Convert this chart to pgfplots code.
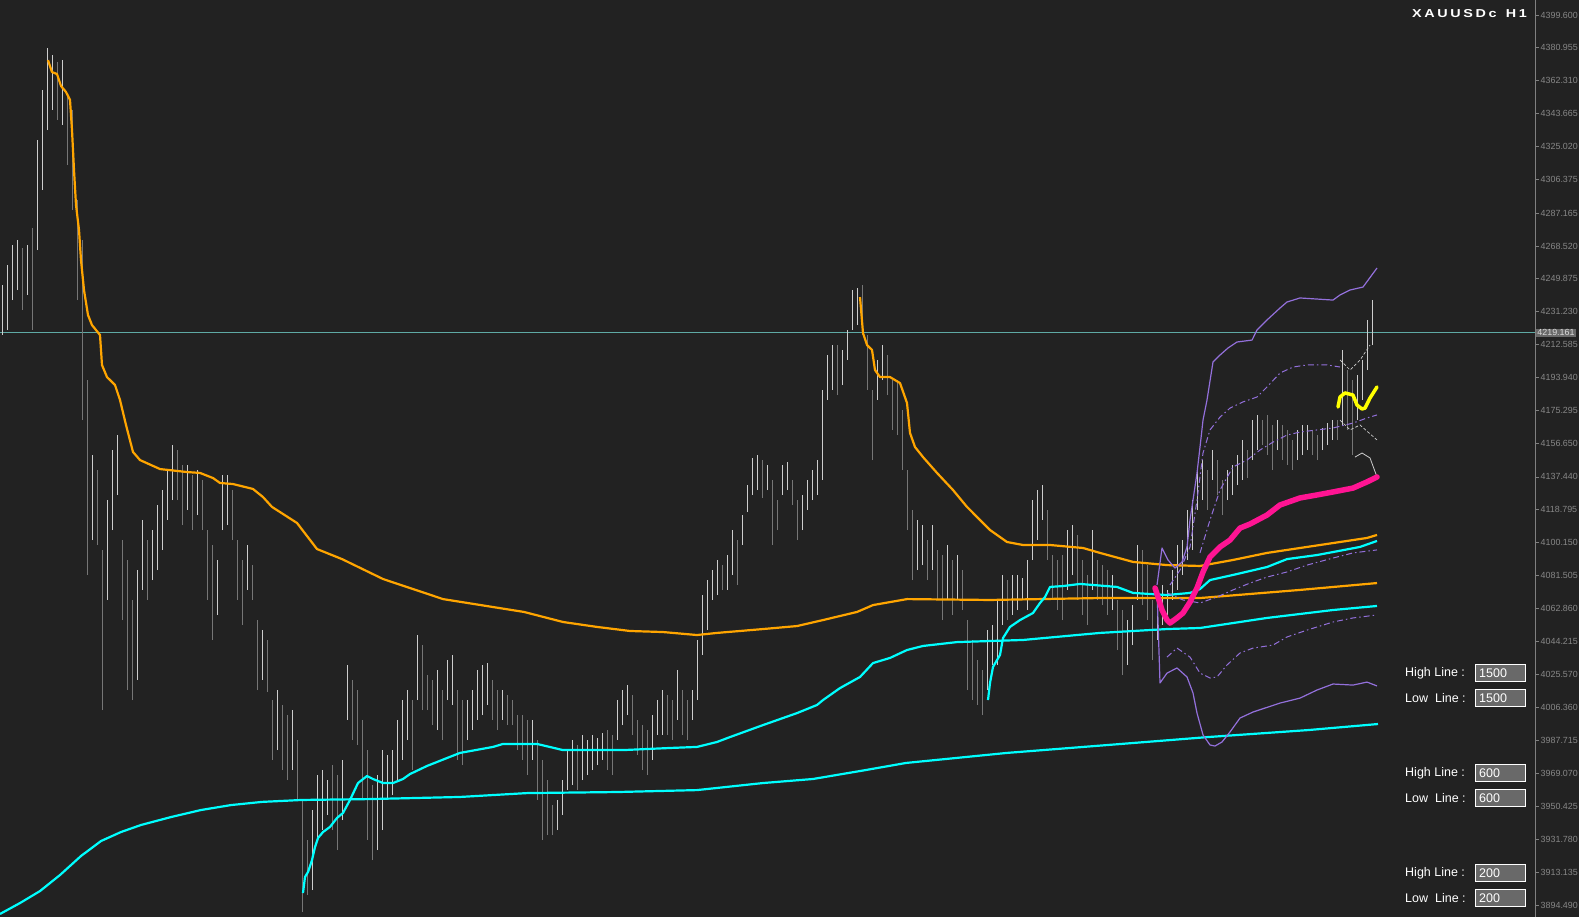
\documentclass[border=0pt]{standalone}
\usepackage{fontspec}
\setmainfont{Liberation Sans}
\usepackage{graphicx}
\usepackage{pgfplots}
\usepackage{pgfplotstable}
\pgfplotsset{compat=1.18}
\definecolor{bgc}{RGB}{34,34,34}
\definecolor{barhi}{RGB}{205,205,205}
\definecolor{barlo}{RGB}{118,118,118}
\definecolor{orangeL}{RGB}{255,165,0}
\definecolor{cyanL}{RGB}{0,255,255}
\definecolor{pinkL}{RGB}{255,20,147}
\definecolor{yellowL}{RGB}{255,255,0}
\definecolor{purpL}{RGB}{147,112,219}
\definecolor{tealL}{RGB}{95,170,165}
\definecolor{axgray}{RGB}{128,128,128}
\definecolor{txtgray}{RGB}{135,135,135}
\definecolor{boxgray}{RGB}{105,105,105}

% H1 bars: low, high, up(1)/down(0)
\pgfplotstableread[row sep=\\]{
lo hi u\\
4218.0 4246.4 1\\ 4220.8 4257.7 1\\ 4237.8 4269.1 1\\ 4243.5 4271.9 1\\ 4232.2 4267.4 0\\
4240.7 4269.1 1\\ 4220.8 4278.7 0\\ 4266.2 4328.6 1\\ 4300.3 4357.0 1\\ 4334.3 4380.9 1\\
4345.7 4376.9 1\\ 4340.0 4372.9 0\\ 4337.2 4374.0 1\\ 4314.5 4354.2 0\\ 4288.9 4345.7 0\\
4237.8 4294.6 0\\ 4169.7 4271.9 0\\ 4081.8 4192.4 0\\ 4101.6 4149.9 1\\ 4098.8 4141.4 0\\
4005.1 4096.0 0\\ 4067.6 4124.3 1\\ 4107.3 4152.7 1\\ 4127.2 4161.2 1\\ 4056.2 4101.6 0\\
4016.5 4090.3 0\\ 4010.8 4067.6 0\\ 4022.2 4084.6 1\\ 4073.3 4113.0 1\\ 4067.6 4101.6 0\\
4078.9 4107.3 1\\ 4084.6 4121.5 1\\ 4096.0 4130.0 1\\ 4113.0 4141.4 1\\ 4124.3 4155.5 1\\
4124.3 4152.7 0\\ 4110.1 4144.2 0\\ 4118.7 4144.2 1\\ 4107.3 4138.5 0\\ 4115.8 4141.4 1\\
4107.3 4135.7 0\\ 4067.6 4107.3 0\\ 4044.9 4098.8 0\\ 4059.1 4090.3 1\\ 4107.3 4138.5 1\\
4110.1 4138.5 1\\ 4101.6 4130.0 0\\ 4067.6 4101.6 0\\ 4053.4 4090.3 0\\ 4073.3 4098.8 1\\
4067.6 4087.4 0\\ 4016.5 4056.2 0\\ 4022.2 4050.5 1\\ 4015.4 4044.9 0\\ 3976.8 4010.8 0\\
3982.4 4016.5 1\\ 3971.1 4008.0 0\\ 3965.4 4002.3 0\\ 3971.1 4005.1 1\\ 3954.1 3988.1 0\\
3890.5 3954.1 0\\ 3900.1 3931.4 0\\ 3903.0 3948.4 1\\ 3931.4 3968.3 1\\ 3937.0 3971.1 1\\
3945.6 3965.4 1\\ 3937.0 3973.9 0\\ 3925.7 3968.3 0\\ 3942.7 3976.8 1\\ 3999.5 4030.7 1\\
3988.1 4022.2 0\\ 3985.3 4016.5 0\\ 3954.1 3999.5 0\\ 3931.4 3982.4 0\\ 3920.0 3962.6 0\\
3925.7 3968.3 1\\ 3937.0 3982.4 1\\ 3954.1 3979.6 1\\ 3956.9 3982.4 1\\ 3965.4 3999.5 1\\
3976.8 4010.8 1\\ 3988.1 4016.5 1\\ 3971.1 4010.8 0\\ 4010.8 4047.7 1\\ 4005.1 4042.0 0\\
4005.1 4025.0 0\\ 3996.6 4022.2 0\\ 3993.8 4027.8 1\\ 3988.1 4016.5 0\\ 4010.8 4033.5 1\\
4008.0 4036.4 1\\ 3976.8 4016.5 0\\ 3973.9 4010.8 0\\ 3988.1 4010.8 1\\ 3993.8 4016.5 1\\
3999.5 4027.8 1\\ 4002.3 4030.7 1\\ 4008.0 4031.8 1\\ 3999.5 4022.2 0\\ 3993.8 4016.5 0\\
3999.5 4016.5 1\\ 3996.6 4013.7 0\\ 3996.6 4010.8 0\\ 3982.4 4002.3 0\\ 3976.8 4002.3 0\\
3968.3 3999.5 0\\ 3976.8 3999.5 1\\ 3954.1 3988.1 0\\ 3931.4 3976.8 0\\ 3934.2 3965.4 0\\
3934.2 3951.2 0\\ 3937.0 3954.1 1\\ 3945.6 3965.4 1\\ 3959.7 3982.4 1\\ 3962.6 3988.1 1\\
3959.7 3985.3 0\\ 3965.4 3991.0 1\\ 3968.3 3988.1 1\\ 3971.1 3991.0 1\\ 3973.9 3989.3 1\\
3976.8 3992.1 1\\ 3971.1 3993.8 0\\ 3968.3 3991.0 0\\ 3988.1 4010.8 1\\ 3996.6 4016.5 1\\
4002.3 4019.3 1\\ 3991.0 4013.7 0\\ 3979.6 3999.5 0\\ 3971.1 3996.6 0\\ 3968.3 3993.8 0\\
3976.8 4002.3 1\\ 3991.0 4010.8 1\\ 3991.0 4016.5 1\\ 3991.0 4013.7 0\\ 3988.1 4010.8 0\\
3999.5 4027.8 1\\ 3991.0 4016.5 0\\ 3988.1 4010.8 0\\ 3999.5 4016.5 1\\ 4010.8 4044.9 1\\
4036.4 4070.4 1\\ 4050.5 4078.9 1\\ 4067.6 4084.6 1\\ 4070.4 4090.3 1\\ 4073.3 4087.4 0\\
4073.3 4093.1 1\\ 4081.8 4107.3 1\\ 4076.1 4101.6 0\\ 4098.8 4115.8 1\\ 4117.5 4132.8 1\\
4127.2 4148.2 1\\ 4130.0 4149.9 1\\ 4125.5 4147.0 0\\ 4130.0 4144.2 1\\ 4098.8 4135.7 0\\
4107.3 4124.3 0\\ 4127.2 4144.2 1\\ 4130.0 4145.9 1\\ 4121.5 4135.7 0\\ 4101.6 4124.3 0\\
4107.3 4127.2 1\\ 4118.7 4135.7 1\\ 4124.3 4141.4 1\\ 4127.2 4147.0 1\\ 4135.7 4186.8 1\\
4181.1 4206.6 1\\ 4186.8 4212.3 1\\ 4183.9 4212.3 0\\ 4189.6 4209.5 1\\ 4203.8 4220.8 1\\
4220.8 4243.5 1\\ 4223.6 4244.7 1\\ 4218.0 4246.4 0\\ 4186.8 4218.0 0\\ 4147.0 4186.8 0\\
4181.1 4203.8 1\\ 4192.4 4212.3 1\\ 4183.9 4206.6 0\\ 4164.1 4192.4 0\\ 4161.2 4192.4 0\\
4141.4 4175.4 0\\ 4107.3 4141.4 0\\ 4078.9 4118.7 0\\ 4084.6 4113.0 1\\ 4087.4 4110.1 1\\
4078.9 4101.6 0\\ 4084.6 4110.1 1\\ 4067.6 4096.0 0\\ 4056.2 4093.1 0\\ 4067.6 4098.8 1\\
4059.1 4090.3 0\\ 4067.6 4093.1 1\\ 4061.9 4084.6 0\\ 4016.5 4056.2 0\\ 4010.8 4044.9 0\\
4008.0 4033.5 0\\ 4002.3 4027.8 0\\ 4016.5 4050.5 1\\ 4030.7 4053.4 1\\ 4030.7 4067.6 1\\
4053.4 4081.8 1\\ 4056.2 4078.9 0\\ 4059.1 4081.8 1\\ 4061.9 4081.8 1\\ 4067.6 4080.1 1\\
4061.9 4090.3 1\\ 4090.3 4124.3 1\\ 4101.6 4130.0 1\\ 4113.0 4132.8 1\\ 4090.3 4118.7 0\\
4067.6 4093.1 0\\ 4061.9 4090.3 0\\ 4056.2 4093.1 0\\ 4073.3 4107.3 1\\ 4081.8 4110.1 1\\
4067.6 4104.5 0\\ 4059.1 4090.3 0\\ 4053.4 4081.8 0\\ 4073.3 4107.3 1\\ 4067.6 4090.3 0\\
4064.7 4087.4 0\\ 4059.1 4084.6 0\\ 4061.9 4081.8 1\\ 4039.2 4067.6 0\\ 4025.0 4061.9 0\\
4030.7 4056.2 1\\ 4042.0 4064.7 1\\ 4067.6 4098.8 1\\ 4064.7 4096.0 0\\ 4056.2 4087.4 0\\
4033.5 4067.6 0\\ 4044.9 4070.4 1\\ 4053.4 4076.1 1\\ 4059.1 4073.3 1\\ 4067.6 4084.6 1\\
4073.3 4098.8 1\\ 4081.8 4101.6 1\\ 4090.3 4118.7 1\\ 4096.0 4124.3 1\\ 4118.7 4141.4 1\\
4124.3 4147.0 1\\ 4118.7 4141.4 0\\ 4135.7 4152.7 1\\ 4127.2 4147.0 0\\ 4115.8 4135.7 0\\
4124.3 4141.4 1\\ 4127.2 4144.2 1\\ 4132.8 4149.9 1\\ 4135.7 4158.4 1\\ 4136.8 4152.7 0\\
4147.0 4169.7 1\\ 4152.7 4172.6 1\\ 4155.5 4169.7 0\\ 4149.9 4172.6 0\\ 4141.4 4166.9 0\\
4152.7 4169.7 1\\ 4147.0 4166.9 0\\ 4144.2 4164.1 0\\ 4141.4 4158.4 0\\ 4147.0 4164.1 1\\
4149.9 4166.9 1\\ 4152.7 4166.9 1\\ 4149.9 4164.1 0\\ 4147.0 4161.2 0\\ 4152.7 4165.2 1\\
4155.5 4168.0 1\\ 4158.4 4169.7 1\\ 4158.4 4169.7 0\\ 4166.9 4209.5 1\\ 4164.1 4198.1 0\\
4149.9 4192.4 0\\ 4169.7 4195.3 1\\ 4181.1 4203.8 1\\ 4198.1 4226.5 1\\ 4212.3 4237.8 1\\
}\bars

\begin{document}
\begin{tikzpicture}
\fill[bgc] (0,0) rectangle (1579pt,917pt);
\begin{axis}[
  scale only axis, width=1535pt, height=917pt,
  xmin=0, xmax=1535, ymin=3887.68, ymax=4408.11,
  hide x axis, axis y line*=right,
  axis line style={draw=axgray, line width=1pt},
  ytick={3894.490,3913.135,3931.780,3950.425,3969.070,3987.715,4006.360,4025.570,4044.215,4062.860,4081.505,4100.150,4118.795,4137.440,4156.650,4175.295,4193.940,4212.585,4231.230,4249.875,4268.520,4287.165,4306.375,4325.020,4343.665,4362.310,4380.955,4399.600},
  yticklabels={3894.490,3913.135,3931.780,3950.425,3969.070,3987.715,4006.360,4025.570,4044.215,4062.860,4081.505,4100.150,4118.795,4137.440,4156.650,4175.295,4193.940,4212.585,4231.230,4249.875,4268.520,4287.165,4306.375,4325.020,4343.665,4362.310,4380.955,4399.600},
  tick align=outside, major tick length=4pt,
  ytick style={draw=axgray, line width=0.8pt},
  yticklabel style={font=\fontsize{8.9}{10}\selectfont, text=txtgray, anchor=west, inner sep=0pt, xshift=1.5pt},
]
% current price line
\addplot[tealL, line width=1pt, forget plot] coordinates {(0,4219.161) (1535,4219.161)};
% bars
\addplot[draw=none, mark=none, forget plot,
  restrict expr to domain={\thisrow{u}}{0.5:1.5},
  error bars/.cd, y dir=plus, y explicit, error mark=none,
  error bar style={draw=barhi, line width=1pt}]
  table[x expr=\coordindex*5+2, y=lo, y error expr=\thisrow{hi}-\thisrow{lo}] {\bars};
\addplot[draw=none, mark=none, forget plot,
  restrict expr to domain={\thisrow{u}}{-0.5:0.5},
  error bars/.cd, y dir=plus, y explicit, error mark=none,
  error bar style={draw=barlo, line width=1pt}]
  table[x expr=\coordindex*5+2, y=lo, y error expr=\thisrow{hi}-\thisrow{lo}] {\bars};
% orange A
\addplot[orangeL, line width=2.2pt, line join=round] coordinates {
(48,4374.0) (52,4367.2) (57,4366.1) (61,4359.3) (66,4355.9) (70,4351.4) (72,4334.3) (74,4311.6) (76,4291.8) (79,4277.6) (81,4260.5) (84,4243.5) (88,4229.3) (92,4223.6) (100,4218.0) (102,4200.9) (107,4194.1) (115,4189.6) (120,4181.1) (126,4166.9) (133,4151.6) (140,4147.0) (160,4141.9) (187,4140.2) (200,4139.7) (213,4136.8) (220,4134.0) (233,4133.4) (253,4130.6) (263,4126.0) (272,4120.4) (297,4111.3) (317,4096.5) (342,4090.8) (383,4079.5) (443,4068.1) (524,4060.8) (563,4055.1) (597,4052.3) (630,4050.0) (663,4049.4) (697,4047.7) (717,4048.9) (763,4051.1) (797,4052.8) (823,4056.2) (857,4060.8) (873,4064.7) (907,4068.1) (990,4067.6) (1100,4068.7) (1200,4068.7) (1300,4073.3) (1377,4077.2)};
% orange B
\addplot[orangeL, line width=2.2pt, line join=round] coordinates {
(860,4239.5) (863,4219.1) (867,4212.3) (872,4209.5) (875,4198.1) (880,4194.1) (890,4194.1) (900,4190.7) (907,4179.4) (910,4162.4) (915,4154.4) (923,4148.7) (937,4139.7) (953,4130.0) (967,4120.4) (990,4107.3) (1007,4100.5) (1023,4098.8) (1050,4098.8) (1083,4097.1) (1100,4094.3) (1133,4089.2) (1167,4087.4) (1200,4086.9) (1233,4090.3) (1267,4094.3) (1300,4097.1) (1333,4099.9) (1367,4102.8) (1377,4104.5)};
% cyan 1
\addplot[cyanL, line width=2.2pt, line join=round] coordinates {
(0,3889.4) (20,3895.6) (40,3902.4) (60,3911.5) (81,3922.3) (101,3930.8) (121,3935.9) (141,3939.9) (171,3944.4) (201,3948.4) (231,3951.2) (262,3953.0) (302,3954.1) (370,3954.6) (460,3955.8) (527,3958.0) (617,3958.6) (697,3959.7) (763,3963.7) (813,3966.0) (866,3971.1) (906,3975.1) (1007,3980.8) (1108,3985.3) (1208,3989.8) (1309,3993.8) (1378,3997.2)};
% cyan 2
\addplot[cyanL, line width=2.2pt, line join=round] coordinates {
(303,3901.3) (305,3910.4) (308,3913.2) (312,3920.0) (315,3927.4) (318,3932.5) (323,3935.9) (330,3938.8) (337,3943.9) (343,3946.7) (350,3954.1) (358,3963.7) (367,3967.7) (373,3966.0) (383,3963.7) (393,3963.7) (403,3966.0) (410,3968.8) (427,3973.4) (447,3977.9) (460,3980.8) (493,3984.2) (503,3985.9) (537,3985.9) (563,3982.4) (623,3982.4) (670,3983.6) (697,3984.2) (717,3987.0) (730,3989.8) (763,3996.6) (797,4003.4) (817,4008.0) (823,4010.8) (840,4017.6) (860,4023.9) (873,4031.8) (890,4034.7) (907,4039.2) (923,4041.5) (957,4043.7) (1023,4044.9) (1100,4048.9) (1167,4051.1) (1200,4051.7) (1267,4057.4) (1333,4061.9) (1377,4064.2)};
% cyan 3
\addplot[cyanL, line width=2.2pt, line join=round] coordinates {
(988,4010.8) (990,4020.5) (993,4029.6) (1000,4036.4) (1003,4046.0) (1010,4052.3) (1020,4056.2) (1033,4060.2) (1040,4065.9) (1045,4069.3) (1050,4075.0) (1063,4075.5) (1080,4076.7) (1117,4075.0) (1133,4071.6) (1167,4070.4) (1190,4071.6) (1200,4073.8) (1210,4078.9) (1233,4081.8) (1267,4086.3) (1287,4090.8) (1317,4093.1) (1333,4094.8) (1360,4097.7) (1377,4101.1)};
% purple bands
\addplot[purpL, line width=1.2pt, line join=round] coordinates {
(1157,4076.1) (1162,4097.1) (1168,4090.3) (1175,4085.7) (1182,4089.1) (1187,4097.7) (1190,4113.0) (1193,4124.3) (1197,4139.7) (1200,4154.4) (1203,4169.7) (1207,4181.1) (1213,4202.7) (1220,4206.6) (1228,4210.6) (1237,4214.0) (1252,4215.1) (1257,4220.8) (1267,4226.5) (1280,4233.3) (1287,4236.7) (1300,4239.0) (1333,4237.8) (1340,4240.7) (1350,4243.5) (1363,4245.2) (1377,4256.0)};
\addplot[purpL, line width=1.2pt, line join=round] coordinates {
(1157,4073.3) (1160,4020.5) (1167,4026.1) (1177,4029.0) (1187,4023.9) (1193,4014.8) (1197,4003.4) (1203,3991.0) (1210,3985.3) (1215,3984.7) (1222,3987.0) (1230,3992.7) (1240,4000.6) (1253,4004.0) (1280,4009.1) (1300,4011.9) (1317,4016.5) (1333,4019.9) (1353,4019.3) (1367,4021.0) (1377,4018.8)};
\addplot[purpL, line width=1pt, dash pattern=on 6pt off 3pt on 1.5pt off 3pt] coordinates {
(1170,4076.1) (1180,4084.6) (1190,4097.7) (1197,4124.3) (1203,4151.0) (1210,4164.1) (1220,4171.4) (1230,4176.5) (1243,4180.0) (1257,4182.8) (1267,4188.5) (1280,4196.4) (1293,4199.8) (1307,4201.0) (1327,4201.0) (1340,4199.8)};
\addplot[purpL, line width=1pt, dash pattern=on 6pt off 3pt on 1.5pt off 3pt] coordinates {
(1200,4094.3) (1210,4113.0) (1220,4130.0) (1233,4143.1) (1247,4147.0) (1260,4152.7) (1273,4157.2) (1287,4161.2) (1300,4162.9) (1317,4164.1) (1333,4165.2) (1353,4168.0) (1367,4170.9) (1377,4172.6)};
\addplot[purpL, line width=1pt, dash pattern=on 6pt off 3pt on 1.5pt off 3pt] coordinates {
(1167,4035.2) (1177,4040.3) (1190,4035.2) (1200,4026.1) (1210,4023.3) (1217,4023.9) (1227,4030.7) (1240,4037.5) (1253,4040.3) (1273,4042.0) (1287,4046.6) (1307,4050.5) (1333,4055.1) (1353,4057.4) (1377,4059.1)};
\addplot[purpL, line width=1pt, dash pattern=on 6pt off 3pt on 1.5pt off 3pt] coordinates {
(1167,4071.6) (1183,4067.6) (1200,4065.9) (1217,4069.3) (1233,4073.3) (1250,4077.2) (1267,4080.6) (1287,4083.5) (1307,4087.4) (1333,4091.4) (1353,4094.3) (1377,4096.0)};
% gray projection lines
\addplot[barhi, line width=0.8pt] coordinates {(1355,4148.7) (1362,4151.0) (1370,4148.2) (1377,4137.4)};
\addplot[barhi, line width=0.7pt, dash pattern=on 3pt off 2pt] coordinates {(1340,4169.7) (1350,4164.1) (1360,4166.9) (1377,4158.4)};
\addplot[barhi, line width=0.7pt, dash pattern=on 3pt off 2pt] coordinates {(1340,4203.8) (1350,4198.1) (1360,4203.8) (1370,4212.3)};
% pink
\addplot[pinkL, line width=5.5pt, line join=round, line cap=round] coordinates {
(1155,4074.4) (1158,4069.3) (1162,4061.9) (1167,4056.2) (1170,4054.5) (1177,4057.4) (1183,4060.2) (1190,4066.4) (1197,4074.4) (1203,4083.5) (1210,4092.0) (1220,4097.7) (1230,4101.6) (1240,4108.4) (1250,4110.7) (1267,4115.8) (1280,4121.5) (1300,4125.5) (1317,4127.2) (1333,4128.9) (1353,4131.1) (1367,4134.6) (1377,4137.4)};
% yellow
\addplot[yellowL, line width=3.5pt, line join=round, line cap=round] coordinates {
(1338,4177.1) (1340,4182.8) (1345,4185.1) (1353,4183.9) (1357,4178.2) (1362,4176.0) (1365,4176.5) (1370,4182.2) (1377,4188.5)};
\coordinate (cur) at (axis cs:1535,4219.161);
\end{axis}
% current price label
\node[anchor=west, fill=boxgray, text=white!85!black, inner sep=1.2pt, font=\fontsize{8.9}{10}\selectfont, xshift=1pt] at (cur) {4219.161};
% symbol title
\node[anchor=east, text=white, font=\bfseries\fontsize{11.5}{13}\selectfont, inner sep=0pt] at (1527pt,903pt)
  {\scalebox{1.25}[1]{X\kern2.1pt A\kern2.1pt U\kern2.1pt U\kern2.1pt S\kern2.1pt D\kern2.1pt c\kern2.1pt\ \kern2.1pt H\kern2.1pt 1}};
% input boxes
\foreach \yy/\lab/\val in {243.5/High Line :/1500, 218.5/Low\ \ Line :/1500, 143.5/High Line :/600, 118.5/Low\ \ Line :/600, 43.5/High Line :/200, 18.5/Low\ \ Line :/200}{
  \node[anchor=west, text=white, inner sep=0pt, font=\fontsize{12.5}{14}\selectfont] at (1405pt,\yy pt) {\lab};
  \node[draw=white, line width=1pt, fill=boxgray, minimum width=50pt, minimum height=17pt, inner sep=0pt] at (1500pt,\yy pt) {};
  \node[anchor=west, text=white, inner sep=0pt, font=\fontsize{12.5}{14}\selectfont] at (1479pt,\yy pt) {\val};
}
\pgfresetboundingbox
\path[use as bounding box] (0,0) rectangle (1579pt,917pt);
\end{tikzpicture}
\end{document}
